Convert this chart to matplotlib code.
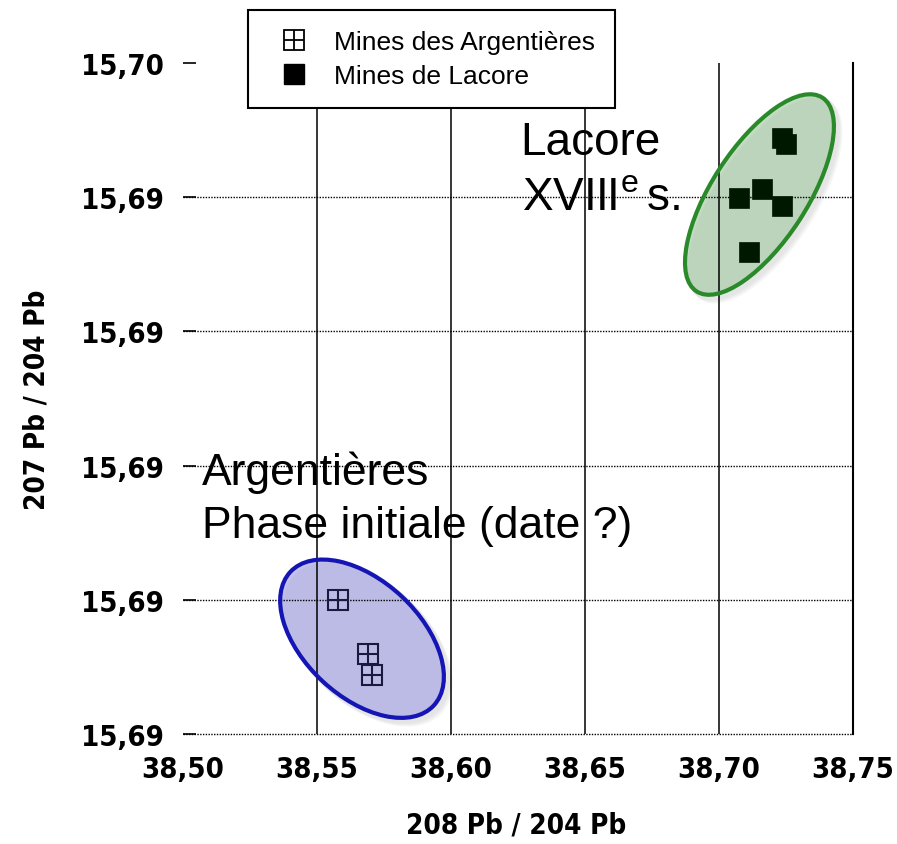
import matplotlib
matplotlib.use('Agg')
import matplotlib.pyplot as plt
from matplotlib.patches import Ellipse
from matplotlib.transforms import ScaledTranslation
from matplotlib.legend_handler import HandlerTuple
from matplotlib.ticker import FuncFormatter

plt.rcParams['font.family'] = ['Liberation Sans', 'DejaVu Sans']
plt.rcParams['mathtext.fontset'] = 'custom'
plt.rcParams['mathtext.rm'] = 'Liberation Sans'

# data
arg_x = [38.5578, 38.5690, 38.5705]
arg_y = [15.6880, 15.68719, 15.68688]
lac_x = [38.7235, 38.7250, 38.7075, 38.7160, 38.7235, 38.7112]
lac_y = [15.69488, 15.69479, 15.69399, 15.69412, 15.69387, 15.69318]

x_ticks = [38.50, 38.55, 38.60, 38.65, 38.70, 38.75]
y_ticks = [15.686, 15.688, 15.690, 15.692, 15.694, 15.696]

# ellipse centres (data); sizes are in pixels
green_c = (38.7151, 15.69404)
blue_c = (38.5668, 15.68742)

narrow = ['DejaVu Sans']

fig = plt.figure(figsize=(8.97, 8.45), dpi=100)
ax = fig.add_axes([183/897, 1 - 735/845, (853-183)/897, (735-64)/845])
ax.set_xlim(x_ticks[0], x_ticks[-1])
ax.set_ylim(y_ticks[0], y_ticks[-1])

# grid: solid verticals, dotted horizontals (no line at the top)
for xv in x_ticks[1:-1]:
    ax.axvline(xv, color='black', lw=1.1, zorder=2)
for yv in y_ticks[:-1]:
    ax.axhline(yv, color='black', lw=1.0, ls=(0, (1, 1)), zorder=2, clip_on=False)

for s in ['top', 'left', 'bottom']:
    ax.spines[s].set_visible(False)
ax.spines['right'].set_linewidth(1.5)

ax.set_xticks(x_ticks)
ax.set_yticks(y_ticks)
fmt = FuncFormatter(lambda v, p: ('%.2f' % v).replace('.', ','))
ax.xaxis.set_major_formatter(fmt)
ax.yaxis.set_major_formatter(fmt)
ax.tick_params(axis='x', length=0, pad=15)
ax.tick_params(axis='y', direction='in', length=9, width=1.2, pad=14)
for lab in ax.get_xticklabels() + ax.get_yticklabels():
    lab.set_family(narrow)
    lab.set_stretch('condensed')
    lab.set_weight('bold')
    lab.set_fontsize(21)

ax.set_xlabel('208 Pb / 204 Pb', family=narrow, stretch='condensed', weight='bold', fontsize=20)
ax.set_ylabel('207 Pb / 204 Pb', family=narrow, stretch='condensed', weight='bold', fontsize=20)
ax.xaxis.set_label_coords(0.497, -0.114)
ax.yaxis.set_label_coords(-0.198, 0.5)

# ellipses drawn in pixel units around a data centre
def blob(c, w, h, ang, face, edge):
    tr = fig.dpi_scale_trans + ScaledTranslation(c[0], c[1], ax.transData)
    for k in range(4):
        sh = Ellipse((0.03 + 0.01*k, -0.03 - 0.01*k), (w + 6)/100, (h + 6)/100, angle=ang,
                     transform=tr, facecolor='gray', edgecolor='none', alpha=0.05, zorder=1)
        ax.add_patch(sh)
    ax.add_patch(Ellipse((0, 0), w/100, h/100, angle=ang, transform=tr,
                         facecolor=face, edgecolor='none', zorder=1))
    ax.add_patch(Ellipse((0, 0), w/100, h/100, angle=ang, transform=tr,
                         facecolor='none', edgecolor=edge, lw=3, zorder=3))

blob(green_c, 231, 95, 57, (0.45, 0.72, 0.45, 0.36), '#2a8a2a')
blob(blue_c, 196, 116, -43, (0.45, 0.45, 0.9, 0.36), '#1515b5')

# markers
ax.plot(arg_x, arg_y, 's', ms=14, mfc='none', mec='#1a1a40', mew=1.5, zorder=4, ls='none')
ax.plot(arg_x, arg_y, '+', ms=14, mec='#1a1a40', mew=1.5, zorder=4, ls='none')
ax.plot(lac_x, lac_y, 's', ms=14, mfc='#001800', mec='#001800', mew=0.5, zorder=4, ls='none')

# legend handles (bigger markers)
h_sq, = ax.plot([], [], 's', ms=15, mfc='none', mec='black', mew=1.3)
h_pl, = ax.plot([], [], '+', ms=15, mec='black', mew=1.3)
h_lac, = ax.plot([], [], 's', ms=15, mfc='black', mec='black')
leg = fig.legend([(h_sq, h_pl), h_lac], ['Mines des Argentières', 'Mines de Lacore'],
                 handler_map={tuple: HandlerTuple(ndivide=1)},
                 loc='upper left', bbox_to_anchor=(248/897, 1 - 11/845), borderaxespad=0,
                 fontsize=19, fancybox=False, framealpha=1, edgecolor='black',
                 borderpad=0.75, handlelength=2, handletextpad=0.5, labelspacing=0.4)
leg.get_frame().set_linewidth(1.5)

# annotations
ax.text(38.6257, 15.69464, 'Lacore', fontsize=33, zorder=5)
ax.text(38.6265, 15.69382, 'XVIII$^{\\mathregular{e}}\\,$s.', fontsize=33, zorder=5)
ax.text(38.5071, 15.68973, 'Argentières', fontsize=32, zorder=5)
ax.text(38.5071, 15.68894, 'Phase initiale (date ?)', fontsize=32, zorder=5)

plt.savefig('out.png', dpi=100)
